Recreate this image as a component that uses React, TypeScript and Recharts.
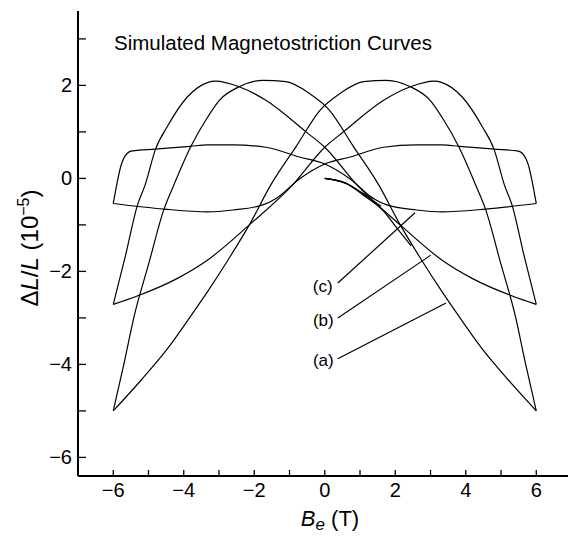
import React from 'react';
import { LineChart, Line, XAxis, YAxis, ReferenceLine, ReferenceDot, Customized } from 'recharts';

// curve (a): branch rising steeply at -6, and its mirror rising steeply at +6
const curveA1 = [
  [-6, -5.0], [-5.7, -4.0], [-5.4, -2.94], [-5.0, -1.85], [-4.56, -0.66], [-4.28, -0.14],
  [-3.81, 0.67], [-3.33, 1.31], [-2.99, 1.68], [-2.43, 1.97], [-1.76, 2.11], [-1.1, 2.08],
  [-0.44, 1.83], [0.13, 1.47], [0.8, 0.7], [1.53, -0.14], [2.14, -1.0], [2.7, -1.7],
  [3.33, -2.44], [3.7, -2.85], [4.5, -3.7], [5.2, -4.33], [6, -5.0],
];
const curveA2 = [
  [-6, -5.0], [-5.2, -4.33], [-4.5, -3.7], [-3.7, -2.85], [-3.33, -2.44], [-2.7, -1.7],
  [-2.14, -1.0], [-1.53, -0.14], [-0.8, 0.7], [-0.13, 1.47], [0.44, 1.83], [1.1, 2.08],
  [1.76, 2.11], [2.43, 1.97], [2.99, 1.68], [3.33, 1.31], [3.81, 0.67], [4.28, -0.14],
  [4.56, -0.66], [5.0, -1.85], [5.4, -2.94], [5.7, -4.0], [6, -5.0],
];

// curve (b)
const curveB1 = [
  [-6, -2.71], [-5.65, -1.65], [-5.32, -0.59], [-5.1, -0.15], [-4.8, 0.63], [-4.47, 1.11],
  [-3.9, 1.75], [-3.33, 2.06], [-3.1, 2.09], [-2.43, 1.97], [-1.67, 1.68], [-0.53, 1.0],
  [0, 0.67], [0.91, -0.14], [2.14, -1.0], [3.33, -1.76], [4.18, -2.15], [5.32, -2.53], [6, -2.71],
];
const curveB2 = [
  [-6, -2.71], [-5.32, -2.53], [-4.18, -2.15], [-3.33, -1.76], [-2.14, -1.0], [-0.91, -0.14],
  [0, 0.67], [0.53, 1.0], [1.67, 1.68], [2.43, 1.97], [3.1, 2.09], [3.33, 2.06], [3.9, 1.75],
  [4.47, 1.11], [4.8, 0.63], [5.1, -0.15], [5.32, -0.59], [5.65, -1.65], [6, -2.71],
];

// curve (c)
const curveC1 = [
  [-6, -0.54], [-5.93, -0.25], [-5.79, 0.25], [-5.6, 0.54], [-5.46, 0.59], [-4.8, 0.63],
  [-3.81, 0.69], [-3.33, 0.72], [-2.6, 0.72], [-1.67, 0.67], [-0.72, 0.46], [0, 0.31],
  [0.7, 0.0], [1.38, -0.43], [1.76, -0.57], [2.6, -0.68], [3.33, -0.72], [4.56, -0.66], [6, -0.54],
];
const curveC2 = [
  [-6, -0.54], [-4.56, -0.66], [-3.33, -0.72], [-2.6, -0.68], [-1.76, -0.57], [-1.38, -0.43],
  [-0.7, 0.0], [0, 0.31], [0.72, 0.46], [1.67, 0.67], [2.6, 0.72], [3.33, 0.72], [3.81, 0.69],
  [4.8, 0.63], [5.46, 0.59], [5.6, 0.54], [5.79, 0.25], [5.93, -0.25], [6, -0.54],
];

// initial (virgin) curves from the origin
const virginA = [[0, 0], [0.6, -0.11], [1.17, -0.4], [1.64, -0.68], [2.02, -1.04], [2.45, -1.45]];
const virginB = [[0, 0], [0.6, -0.11], [1.17, -0.38], [1.6, -0.6]];
const virginC = [[0, 0], [0.6, -0.1], [1.1, -0.33], [1.38, -0.43]];

const xTicks = [-7, -6, -5, -4, -3, -2, -1, 0, 1, 2, 3, 4, 5, 6];
const yTicks = [-6, -5, -4, -3, -2, -1, 0, 1, 2, 3];

const annotations = [
  { label: '(c)', at: [-0.06, -2.31], from: [0.37, -2.25], to: [2.56, -0.74] },
  { label: '(b)', at: [-0.04, -3.05], from: [0.37, -3.0], to: [3.01, -1.65] },
  { label: '(a)', at: [-0.04, -3.91], from: [0.37, -3.88], to: [3.44, -2.68] },
];

const FONT = '"Liberation Sans", Arial, Helvetica, sans-serif';
const toPts = (arr: number[][]) => arr.map(([x, y]) => ({ x, y }));
const fmt = (v: number) => (v < 0 ? `\u2212${Math.abs(v)}` : `${v}`);

const PLOT = { left: 78, right: 568, top: 11, bottom: 476 };

const BottomTick = (props: any) => {
  const { x, y, payload } = props;
  const v = payload.value;
  if (v === -7) return null;
  return (
    <g>
      <line x1={x} y1={y} x2={x} y2={y - 6} stroke="#000" strokeWidth={1.3} />
      {v % 2 === 0 && (
        <text x={x} y={y + 21} textAnchor="middle" fontFamily={FONT} fontSize={20} fill="#000">
          {fmt(v)}
        </text>
      )}
    </g>
  );
};

const TopTick = (props: any) => {
  const { x, y, payload } = props;
  if (payload.value === -7) return null;
  return <line x1={x} y1={y} x2={x} y2={y + 6} stroke="#000" strokeWidth={1.2} />;
};

const LeftTick = (props: any) => {
  const { x, y, payload } = props;
  const v = payload.value;
  return (
    <g>
      <line x1={x} y1={y} x2={x + 8} y2={y} stroke="#000" strokeWidth={1.3} />
      {v % 2 === 0 && (
        <text x={x - 6} y={y + 7} textAnchor="end" fontFamily={FONT} fontSize={20} fill="#000">
          {fmt(v)}
        </text>
      )}
    </g>
  );
};

const RightTick = (props: any) => {
  const { x, y } = props;
  return <line x1={x} y1={y} x2={x - 8} y2={y} stroke="#333" strokeWidth={1.2} />;
};

const Texts = () => (
  <g fontFamily={FONT} fill="#000">
    <text x={114} y={50} fontSize={20.5}>Simulated Magnetostriction Curves</text>
    <text transform="rotate(-90)" x={-248} y={38} fontSize={24} textAnchor="middle">
      <tspan>Δ</tspan>
      <tspan fontStyle="italic">L</tspan>
      <tspan>/</tspan>
      <tspan fontStyle="italic">L</tspan>
      <tspan> (10</tspan>
      <tspan dy={-9} fontSize={16}>−5</tspan>
      <tspan dy={9}>)</tspan>
    </text>
    <text x={330} y={526} fontSize={22} textAnchor="middle">
      <tspan fontStyle="italic">B</tspan>
      <tspan fontStyle="italic" dy={4} fontSize={17}>e</tspan>
      <tspan dy={-4}> (T)</tspan>
    </text>
  </g>
);

const series = [curveA1, curveA2, curveB1, curveB2, curveC1, curveC2, virginA, virginB, virginC];

export default function App() {
  return (
    <div style={{ position: 'absolute', left: 0, top: 0, background: '#fff' }}>
      <LineChart
        width={571}
        height={536}
        margin={{ top: PLOT.top, right: 571 - PLOT.right, bottom: 30, left: 18 }}
      >
        <XAxis
          dataKey="x"
          type="number"
          domain={[-7, 6.9]}
          ticks={xTicks}
          allowDataOverflow
          height={536 - PLOT.bottom - 30}
          axisLine={{ stroke: '#000', strokeWidth: 2 }}
          tickLine={false}
          tickSize={0}
          tickMargin={0}
          tick={<BottomTick />}
          interval={0}
        />
        <XAxis
          xAxisId="top"
          orientation="top"
          dataKey="x"
          type="number"
          domain={[-7, 6.9]}
          ticks={xTicks}
          allowDataOverflow
          height={0}
          axisLine={{ stroke: '#000', strokeWidth: 1.3 }}
          tickLine={false}
          tickSize={0}
          tickMargin={0}
          tick={<TopTick />}
          interval={0}
        />
        <YAxis
          type="number"
          domain={[-6.4, 3.6]}
          ticks={yTicks}
          allowDataOverflow
          width={60}
          axisLine={{ stroke: '#000', strokeWidth: 2 }}
          tickLine={false}
          tickSize={0}
          tickMargin={0}
          tick={<LeftTick />}
          interval={0}
        />
        <YAxis
          yAxisId="right"
          orientation="right"
          type="number"
          domain={[-6.4, 3.6]}
          ticks={yTicks}
          allowDataOverflow
          width={0}
          axisLine={{ stroke: '#555', strokeWidth: 1 }}
          tickLine={false}
          tickSize={0}
          tickMargin={0}
          tick={<RightTick />}
          interval={0}
        />
        {series.map((s, i) => (
          <Line
            key={i}
            data={toPts(s)}
            dataKey="y"
            type="monotone"
            stroke="#000"
            strokeWidth={1.2}
            dot={false}
            activeDot={false}
            isAnimationActive={false}
          />
        ))}
        {annotations.map((a) => (
          <ReferenceLine
            key={a.label + 'l'}
            segment={[{ x: a.from[0], y: a.from[1] }, { x: a.to[0], y: a.to[1] }]}
            stroke="#000"
            strokeWidth={1.2}
            ifOverflow="visible"
          />
        ))}
        {annotations.map((a) => (
          <ReferenceDot
            key={a.label}
            x={a.at[0]}
            y={a.at[1]}
            r={0}
            fill="none"
            stroke="none"
            ifOverflow="visible"
            label={{ value: a.label, position: 'center', fontFamily: FONT, fontSize: 17, fill: '#000' }}
          />
        ))}
        <Customized component={Texts} />
      </LineChart>
    </div>
  );
}
